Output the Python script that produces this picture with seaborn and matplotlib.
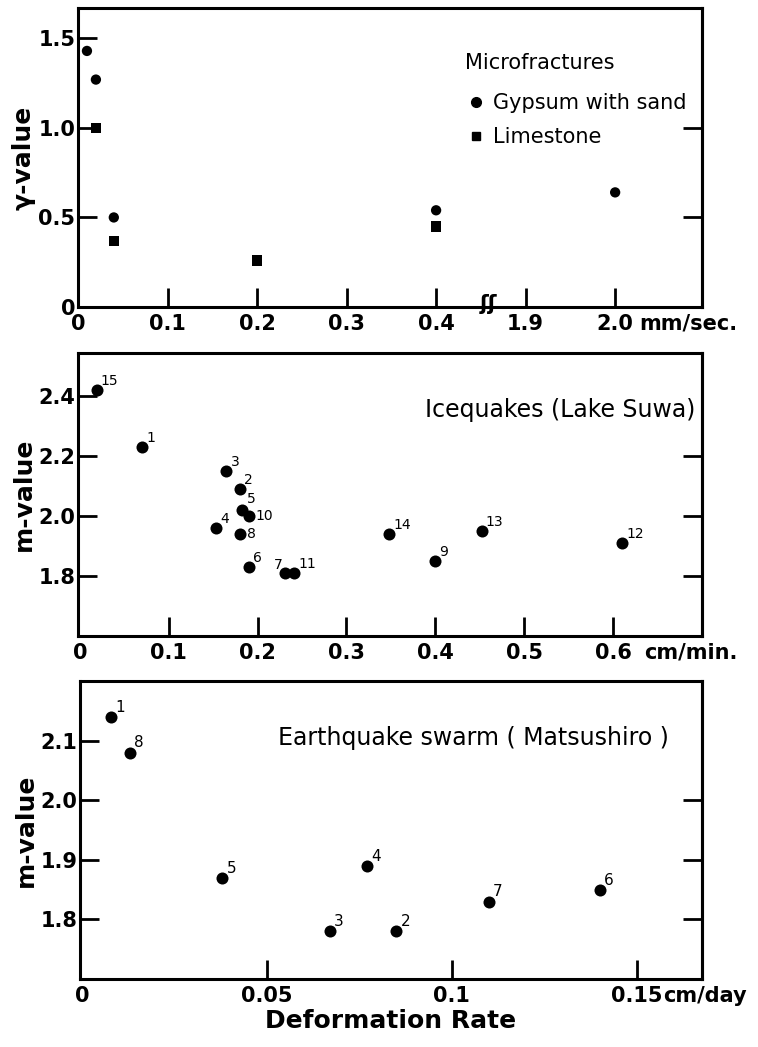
import numpy as np
import pandas as pd
import matplotlib
matplotlib.use("Agg")
import matplotlib.pyplot as plt
from matplotlib.lines import Line2D
import seaborn as sns

# ---------------- data ----------------
# Panel 1: microfractures (rate in mm/sec)
gyp_x = [0.01, 0.02, 0.04, 0.40, 2.00]
gyp_y = [1.43, 1.27, 0.50, 0.54, 0.64]
lime_x = [0.02, 0.04, 0.20, 0.40]
lime_y = [1.00, 0.37, 0.26, 0.45]
p1_xticks = [0, 0.1, 0.2, 0.3, 0.4, 1.9, 2.0]
p1_xticklabels = ["0", "0.1", "0.2", "0.3", "0.4", "1.9", "2.0"]
p1_yticks = [0, 0.5, 1.0, 1.5]
p1_yticklabels = ["0", "0.5", "1.0", "1.5"]

# Panel 2: icequakes, Lake Suwa (cm/min)
ice_id = [1, 2, 3, 4, 5, 6, 7, 8, 9, 10, 11, 12, 13, 14, 15]
ice_x = [0.070, 0.180, 0.165, 0.153, 0.183, 0.190, 0.231, 0.180, 0.400, 0.190,
         0.241, 0.610, 0.452, 0.348, 0.019]
ice_y = [2.23, 2.09, 2.15, 1.96, 2.02, 1.83, 1.81, 1.94, 1.85, 2.00,
         1.81, 1.91, 1.95, 1.94, 2.42]
p2_xticks = [0, 0.1, 0.2, 0.3, 0.4, 0.5, 0.6]
p2_xticklabels = ["0", "0.1", "0.2", "0.3", "0.4", "0.5", "0.6"]
p2_yticks = [1.8, 2.0, 2.2, 2.4]
p2_yticklabels = ["1.8", "2.0", "2.2", "2.4"]

# Panel 3: earthquake swarm, Matsushiro (cm/day)
eq_id = [1, 2, 3, 4, 5, 6, 7, 8]
eq_x = [0.008, 0.085, 0.067, 0.077, 0.038, 0.140, 0.110, 0.013]
eq_y = [2.14, 1.78, 1.78, 1.89, 1.87, 1.85, 1.83, 2.08]
p3_xticks = [0, 0.05, 0.1, 0.15]
p3_xticklabels = ["0", "0.05", "0.1", "0.15"]
p3_yticks = [1.8, 1.9, 2.0, 2.1]
p3_yticklabels = ["1.8", "1.9", "2.0", "2.1"]

# ---------------- style ----------------
sns.set_theme(style="white")
plt.rcParams["font.family"] = ["DejaVu Sans"]
plt.rcParams["axes.edgecolor"] = "black"
plt.rcParams["text.color"] = "black"
plt.rcParams["axes.labelcolor"] = "black"
plt.rcParams["xtick.color"] = "black"
plt.rcParams["ytick.color"] = "black"

fig = plt.figure(figsize=(7.58, 10.47), dpi=100)
ax1 = fig.add_axes([0.1029, 0.7068, 0.8232, 0.2856])
ax2 = fig.add_axes([0.1029, 0.3926, 0.8232, 0.2702])
ax3 = fig.add_axes([0.1055, 0.0649, 0.8206, 0.2847])

TICK_FS = 15
LW = 2.2


def style_axes(ax, right_ticks):
    for sp in ax.spines.values():
        sp.set_linewidth(LW)
        sp.set_color("black")
    ax.tick_params(axis="both", direction="in", length=14, width=2,
                   labelsize=TICK_FS, color="black", labelcolor="black",
                   bottom=True, left=True, top=False, right=False)
    ax.tick_params(axis="x", pad=5)
    ax.tick_params(axis="y", pad=2)
    for lab in ax.get_xticklabels() + ax.get_yticklabels():
        lab.set_fontweight("bold")
    # right-side inward ticks
    sec = ax.secondary_yaxis("right")
    sec.set_yticks(right_ticks)
    sec.tick_params(direction="in", length=14, width=2, labelright=False,
                    right=True, color="black")
    sec.spines["right"].set_linewidth(LW)
    # hide tick mark sitting on the corner (at x = 0)
    ax.xaxis.get_major_ticks()[0].tick1line.set_visible(False)


# ---- Panel 1 (broken x axis) ----
def fwd(x):
    x = np.asarray(x, dtype=float)
    return np.where(x <= 0.45, x,
                    np.where(x >= 1.9, x - 1.4, 0.45 + (x - 0.45) * (0.05 / 1.45)))


def inv(p):
    p = np.asarray(p, dtype=float)
    return np.where(p <= 0.45, p,
                    np.where(p >= 0.5, p + 1.4, 0.45 + (p - 0.45) * (1.45 / 0.05)))


df1 = pd.DataFrame({
    "rate": gyp_x + lime_x,
    "val": gyp_y + lime_y,
    "material": ["Gypsum with sand"] * len(gyp_x) + ["Limestone"] * len(lime_x),
})
ax1.set_xscale("function", functions=(fwd, inv))
sns.scatterplot(data=df1, x="rate", y="val", style="material",
                markers={"Gypsum with sand": "o", "Limestone": "s"},
                color="black", s=55, linewidth=0, ax=ax1, legend=False,
                clip_on=False)
ax1.set_xlim(0, 2.097)
ax1.set_ylim(0, 1.67)
ax1.set_xticks(p1_xticks)
ax1.set_xticklabels(p1_xticklabels)
ax1.set_yticks(p1_yticks)
ax1.set_yticklabels(p1_yticklabels)
ax1.minorticks_off()
ax1.set_xlabel("")
ax1.set_ylabel("γ-value", fontsize=18, fontweight="bold", labelpad=2)
style_axes(ax1, [0.5, 1.0])
ax1.yaxis.get_major_ticks()[0].tick1line.set_visible(False)
ax1.annotate("mm/sec.", xy=(2.0, 0), xycoords=("data", "axes fraction"),
             xytext=(17, -5), textcoords="offset points", ha="left", va="top",
             fontsize=TICK_FS, fontweight="bold")
# break symbol
ax1.text(0.657, 0.01, "ʃʃ", transform=ax1.transAxes, ha="center", va="center",
         fontsize=15, fontweight="bold", color="black")
ax1.text(0.62, 0.816, "Microfractures", transform=ax1.transAxes,
         ha="left", va="center", fontsize=15)
handles = [Line2D([], [], marker="o", ls="", color="black", markersize=7),
           Line2D([], [], marker="s", ls="", color="black", markersize=6)]
leg = ax1.legend(handles, ["Gypsum with sand", "Limestone"],
                 loc="upper left", bbox_to_anchor=(0.628, 0.715), frameon=False,
                 fontsize=15, handlelength=0.6, handletextpad=0.5,
                 labelspacing=0.68, borderpad=0.0, borderaxespad=0.0,
                 labelcolor="black")

# ---- Panel 2 ----
df2 = pd.DataFrame({"rate": ice_x, "m": ice_y, "id": ice_id})
sns.scatterplot(data=df2, x="rate", y="m", color="black", s=75, linewidth=0,
                ax=ax2, legend=False)
ax2.set_xlim(-0.002, 0.70)
ax2.set_ylim(1.6, 2.543)
ax2.set_xticks(p2_xticks)
ax2.set_xticklabels(p2_xticklabels)
ax2.set_yticks(p2_yticks)
ax2.set_yticklabels(p2_yticklabels)
ax2.set_xlabel("")
ax2.set_ylabel("m-value", fontsize=18, fontweight="bold", labelpad=2)
style_axes(ax2, [1.8, 2.0, 2.2])
ax2.annotate("cm/min.", xy=(0.6, 0), xycoords=("data", "axes fraction"),
             xytext=(22, -5), textcoords="offset points", ha="left", va="top",
             fontsize=TICK_FS, fontweight="bold")
ax2.text(0.99, 0.80, "Icequakes (Lake Suwa)", transform=ax2.transAxes,
         ha="right", va="center", fontsize=17)
special2 = {5: ((3, 3), "left", "bottom"), 10: ((5, 0), "left", "center"),
            8: ((5, 0), "left", "center"), 7: ((-2, 1), "right", "bottom")}
for i, xv, yv in zip(ice_id, ice_x, ice_y):
    off, ha, va = special2.get(i, ((3, 1.5), "left", "bottom"))
    ax2.annotate(str(i), (xv, yv), xytext=off, textcoords="offset points",
                 ha=ha, va=va, fontsize=10)

# ---- Panel 3 ----
df3 = pd.DataFrame({"rate": eq_x, "m": eq_y, "id": eq_id})
sns.scatterplot(data=df3, x="rate", y="m", color="black", s=75, linewidth=0,
                ax=ax3, legend=False)
ax3.set_xlim(-0.0005, 0.1676)
ax3.set_ylim(1.70, 2.20)
ax3.set_xticks(p3_xticks)
ax3.set_xticklabels(p3_xticklabels)
ax3.set_yticks(p3_yticks)
ax3.set_yticklabels(p3_yticklabels)
ax3.set_ylabel("m-value", fontsize=18, fontweight="bold", labelpad=2)
ax3.set_xlabel("Deformation Rate", fontsize=18, fontweight="bold", labelpad=2)
style_axes(ax3, [1.8, 1.9, 2.0])
ax3.text(0.318, 0.81, "Earthquake swarm ( Matsushiro )", transform=ax3.transAxes,
         ha="left", va="center", fontsize=17)
ax3.annotate("cm/day", xy=(0.15, 0), xycoords=("data", "axes fraction"),
             xytext=(19, -5), textcoords="offset points", ha="left", va="top",
             fontsize=TICK_FS, fontweight="bold")
for i, xv, yv in zip(eq_id, eq_x, eq_y):
    ax3.annotate(str(i), (xv, yv), xytext=(3, 1.5), textcoords="offset points",
                 ha="left", va="bottom", fontsize=11)

fig.savefig("out.png", dpi=100, facecolor="white")
